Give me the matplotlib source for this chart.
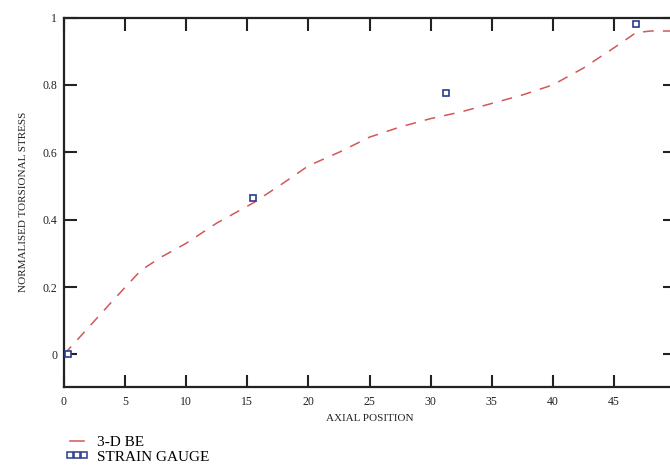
import matplotlib
matplotlib.use("Agg")
import matplotlib.pyplot as plt
from matplotlib.lines import Line2D

# 3-D BE curve
be_x = [0, 2, 4, 6.3, 8, 10, 12.5, 15.5, 18, 20, 22.5, 25, 27.5, 30,
        32.5, 35, 37.5, 40, 42.5, 45, 46.8, 48, 50]
be_y = [0, 0.08, 0.16, 0.25, 0.29, 0.33, 0.39, 0.45, 0.51, 0.56, 0.60, 0.645,
        0.675, 0.70, 0.72, 0.745, 0.77, 0.80, 0.85, 0.91, 0.955, 0.96, 0.96]

# strain gauge points
sg_x = [0.3, 15.5, 31.3, 46.8]
sg_y = [0, 0.464, 0.775, 0.98]

x_ticks = [0, 5, 10, 15, 20, 25, 30, 35, 40, 45, 50]
y_ticks = [0, 0.2, 0.4, 0.6, 0.8, 1]
y_tick_labels = ["0", "0.2", "0.4", "0.6", "0.8", "1"]

plt.rcParams['font.family'] = ['Liberation Serif', 'DejaVu Serif']

fig = plt.figure(figsize=(6.70, 4.66), dpi=100)
ax = fig.add_axes([0.0955, 0.1706, 0.912, 0.7918])

line_col = "#d0585a"
mark_col = "#2b3c8c"
ax.plot(be_x, be_y, color=line_col, lw=1.1, dashes=(7, 6), label="3-D BE")
ax.plot(sg_x, sg_y, ls="none", marker="s", ms=5, mfc="white", mec=mark_col,
        mew=1.2, label="STRAIN GAUGE", clip_on=False, zorder=5)

ax.set_xlim(0, 50)
ax.set_ylim(-0.095, 1)
ax.set_xticks(x_ticks)
ax.set_yticks(y_ticks)
ax.set_yticklabels(y_tick_labels)
ax.tick_params(direction="in", length=9, width=1.5, color="#222222",
               top=True, right=True, labelsize=8.5, labelcolor="#222222")
ax.tick_params(axis="x", pad=7)
ax.tick_params(axis="y", pad=5)
for s in ax.spines.values():
    s.set_linewidth(1.6)
    s.set_color("#222222")

ax.set_xlabel("AXIAL POSITION", fontsize=8, color="#222222", labelpad=4)
ax.set_ylabel("NORMALISED TORSIONAL STRESS", fontsize=8, color="#222222",
              labelpad=10)

handles = [Line2D([0], [0], color=line_col, lw=1.1),
           Line2D([0], [0], ls="none", marker="s", ms=4.5, mfc="white",
                  mec=mark_col, mew=1.1)]
fig.legend(handles, ["3-D BE", "STRAIN GAUGE"], loc="lower left",
           bbox_to_anchor=(0.082, -0.018), frameon=False, fontsize=11,
           numpoints=3, handlelength=1.5, handletextpad=0.55,
           labelspacing=0.05, borderpad=0.2)

fig.savefig("out.png", dpi=100)
